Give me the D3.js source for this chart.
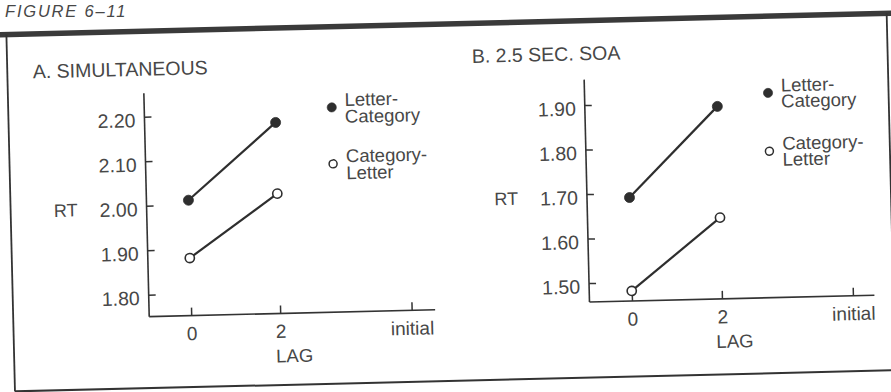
<!DOCTYPE html>
<html><head><meta charset="utf-8">
<script src="https://cdn.jsdelivr.net/npm/d3@7"></script>
<style>
html,body{margin:0;padding:0;background:#fff;}
svg{display:block;}
text{font-family:"Liberation Sans",Arial,Helvetica,sans-serif;fill:#474747;}
</style></head><body>
<svg id="chart" width="891" height="392"></svg>
<script>
// ---------------- data ----------------
const figureCaption = "FIGURE 6–11";
const panelTitles = ["A. SIMULTANEOUS", "B. 2.5 SEC. SOA"];
const lagCategories = ["0", "2", "initial"];
const measuredLags = ["0", "2"];
const legendLines = [["Letter-", "Category"], ["Category-", "Letter"]];
const simultaneousLetterCategory = [2.01, 2.18];
const simultaneousCategoryLetter = [1.88, 2.02];
const soaLetterCategory = [1.69, 1.89];
const soaCategoryLetter = [1.48, 1.64];
const simultaneousTicks = [1.80, 1.90, 2.00, 2.10, 2.20];
const soaTicks = [1.50, 1.60, 1.70, 1.80, 1.90];
const yLabel = "RT";
const xLabel = "LAG";

// ---------------- layout ----------------
const ink = "#333";
const textInk = "#474747";
const svg = d3.select("#chart");

svg.append("text").attr("x", 5).attr("y", 16.5)
  .attr("font-size", 16.5).attr("font-style", "italic").attr("letter-spacing", 1.8)
  .attr("fill", "#3f3f3f")
  .text(figureCaption);

const root = svg.append("g").attr("transform", "rotate(-1.375,445,200)");

// frame
root.append("line").attr("x1", -20).attr("x2", 910).attr("y1", 24).attr("y2", 24)
  .attr("stroke", "#3a3a3a").attr("stroke-width", 5.5);
root.append("line").attr("x1", 10.5).attr("x2", 10.5).attr("y1", 24).attr("y2", 381)
  .attr("stroke", ink).attr("stroke-width", 1.8);
root.append("line").attr("x1", 10.5).attr("x2", 910).attr("y1", 381).attr("y2", 381)
  .attr("stroke", ink).attr("stroke-width", 2);
root.append("line").attr("x1", 891).attr("x2", 891).attr("y1", 24).attr("y2", 381)
  .attr("stroke", ink).attr("stroke-width", 1.8);

const panels = [
  { title: panelTitles[0], titleX: 36, titleY: 68.5,
    axisX: 146.5, axisY: 309.5, axisTop: 86, xLen: 286,
    yLow: 287.5, yHigh: 109.5, lagOffsets: [42, 131, 262.5],
    ticks: simultaneousTicks,
    series: [simultaneousLetterCategory, simultaneousCategoryLetter],
    legendX: 334, legendY: [103.5, 160], legendLH: 17 },
  { title: panelTitles[1], titleX: 475.3, titleY: 63.6,
    axisX: 587, axisY: 305.5, axisTop: 83, xLen: 285,
    yLow: 286.5, yHigh: 108.5, lagOffsets: [42.5, 132.5, 263.5],
    ticks: soaTicks,
    series: [soaLetterCategory, soaCategoryLetter],
    legendX: 770.5, legendY: [99.5, 157.8], legendLH: 16 }
];

panels.forEach(p => {
  const g = root.append("g");
  const y = d3.scaleLinear().domain([p.ticks[0], p.ticks[p.ticks.length - 1]]).range([p.yLow, p.yHigh]);
  const x = d3.scaleOrdinal().domain(lagCategories).range(p.lagOffsets.map(o => p.axisX + o));

  g.append("text").attr("x", p.titleX).attr("y", p.titleY).attr("font-size", 19.5).text(p.title);

  // axis lines
  g.append("line").attr("x1", p.axisX).attr("x2", p.axisX).attr("y1", p.axisY).attr("y2", p.axisTop)
    .attr("stroke", ink).attr("stroke-width", 1.6);
  g.append("line").attr("x1", p.axisX).attr("x2", p.axisX + p.xLen).attr("y1", p.axisY).attr("y2", p.axisY)
    .attr("stroke", ink).attr("stroke-width", 1.6);

  const yAxis = d3.axisLeft(y).tickValues(p.ticks).tickFormat(d3.format(".2f"))
    .tickSizeInner(-7).tickSizeOuter(0).tickPadding(9);
  const ya = g.append("g").attr("transform", `translate(${p.axisX},0)`).call(yAxis);
  ya.select(".domain").remove();
  ya.attr("font-family", null).attr("font-size", 19.5);
  ya.selectAll("line").attr("stroke", ink).attr("stroke-width", 1.5);
  ya.selectAll("text").attr("fill", textInk).attr("dy", "0.5em");

  const xAxis = d3.axisBottom(x).tickValues(lagCategories).tickSizeInner(-8).tickSizeOuter(0).tickPadding(11);
  const xa = g.append("g").attr("transform", `translate(0,${p.axisY})`).call(xAxis);
  xa.select(".domain").remove();
  xa.attr("font-family", null).attr("font-size", 19);
  xa.selectAll("line").attr("stroke", ink).attr("stroke-width", 1.5);
  xa.selectAll("text").attr("fill", textInk);

  g.append("text").attr("x", p.axisX - 69).attr("y", y(p.ticks[2])).attr("dy", "0.5em")
    .attr("text-anchor", "end").attr("font-size", 18).text(yLabel);
  g.append("text").attr("x", p.axisX + 144.5).attr("y", p.axisY + 49)
    .attr("text-anchor", "middle").attr("font-size", 18.5).text(xLabel);

  const line = d3.line().x((d, i) => x(measuredLags[i])).y(d => y(d));
  p.series.forEach((vals, si) => {
    g.append("path").attr("d", line(vals)).attr("fill", "none")
      .attr("stroke", "#2e2e2e").attr("stroke-width", 2.2);
    g.selectAll(null).data(vals).enter().append("circle")
      .attr("cx", (d, i) => x(measuredLags[i])).attr("cy", d => y(d))
      .attr("r", si === 0 ? 5 : 4.6)
      .attr("fill", si === 0 ? "#2e2e2e" : "#fff")
      .attr("stroke", "#2e2e2e").attr("stroke-width", si === 0 ? 0.8 : 1.6);
  });

  // legend
  legendLines.forEach((lines, si) => {
    const by = p.legendY[si];
    g.append("circle").attr("cx", p.legendX).attr("cy", by + 1.2)
      .attr("r", si === 0 ? 4.6 : 4)
      .attr("fill", si === 0 ? "#2e2e2e" : "#fff")
      .attr("stroke", "#2e2e2e").attr("stroke-width", si === 0 ? 0.6 : 1.5);
    lines.forEach((t, li) => {
      g.append("text").attr("x", p.legendX + 13).attr("y", by + li * p.legendLH)
        .attr("font-size", 18.5).text(t);
    });
  });
});
</script>
</body></html>
